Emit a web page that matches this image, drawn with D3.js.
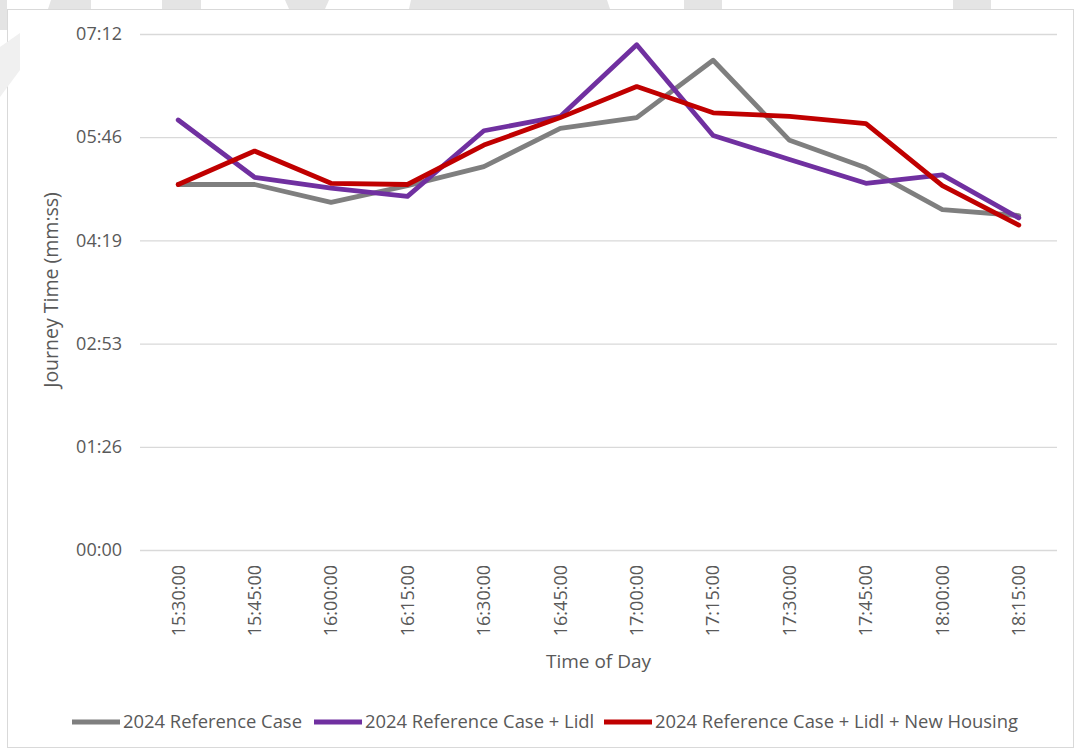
<!DOCTYPE html>
<html>
<head>
<meta charset="utf-8">
<script src="https://cdn.jsdelivr.net/npm/d3@7"></script>
<style>
  body { margin: 0; background: #fff; }
  svg { display: block; font-family: "Open Sans", sans-serif; }
</style>
</head>
<body>
<div id="chart"></div>
<script>
// time slots on the x axis
const times = ['15:30:00', '15:45:00', '16:00:00', '16:15:00', '16:30:00', '16:45:00',
               '17:00:00', '17:15:00', '17:30:00', '17:45:00', '18:00:00', '18:15:00'];

// journey times in seconds
const refCase = [306, 306, 291, 305, 321, 353, 362, 410, 343, 320, 285, 280];
const refLidl = [360, 312, 303, 296, 351, 363, 423, 347, 327, 307, 314, 278];
const refLidlHousing = [306, 334, 307, 306, 339, 362, 388, 366, 363, 357, 305, 272];

// y ticks (excel day fractions 0.001 apart, in seconds)
const yTicks = [0, 86.4, 172.8, 259.2, 345.6, 432];

const seriesNames = ['2024 Reference Case', '2024 Reference Case + Lidl', '2024 Reference Case + Lidl + New Housing'];
const seriesColors = ['#7f7f7f', '#7030a0', '#c00000'];

const WIDTH = 1078, HEIGHT = 751;
const PLOT = { LEFT: 140, RIGHT: 1057, TOP: 34, BOTTOM: 550 };

const svg = d3.select('#chart')
    .append('svg')
        .attr('width', WIDTH)
        .attr('height', HEIGHT);

// chart area + border
svg.append('rect')
    .attr('x', 7.5).attr('y', 9.5)
    .attr('width', 1066).attr('height', 738)
    .attr('fill', '#fff')
    .attr('stroke', '#d9d9d9');

// faint watermark fragments at the edges
const marks = [
    [[51, 0], [91, 0], [91, 9], [48, 9]],
    [[162, 0], [201, 0], [201, 9], [162, 9]],
    [[285, 0], [329, 0], [325, 9], [289, 9]],
    [[411, 0], [607, 0], [610, 9], [409, 9]],
    [[684, 0], [722, 0], [722, 9], [684, 9]],
    [[953, 0], [991, 0], [991, 9], [953, 9]],
    [[0, 0], [7, 0], [7, 30], [0, 30]]
];
svg.append('g')
    .selectAll('polygon')
    .data(marks)
    .enter().append('polygon')
        .attr('points', d => d.map(p => p.join(',')).join(' '))
        .attr('fill', '#e4e4e4');
// the slanted one on the left is fainter
svg.append('polygon')
    .attr('points', '0,47 20,33 20,70 0,97')
    .attr('fill', '#f0f0f0');

const x = d3.scaleBand()
    .domain(times)
    .range([PLOT.LEFT, PLOT.RIGHT]);
const xc = t => x(t) + x.bandwidth() / 2;

const y = d3.scaleLinear()
    .domain([0, 432])
    .range([PLOT.BOTTOM, PLOT.TOP]);

const fmt = s => {
    const r = Math.round(s);
    return String(Math.floor(r / 60)).padStart(2, '0') + ':' + String(r % 60).padStart(2, '0');
};

// gridlines + y labels
const yAxisCall = d3.axisLeft(y)
    .tickValues(yTicks)
    .tickFormat(fmt)
    .tickSize(-(PLOT.RIGHT - PLOT.LEFT))
    .tickPadding(18);

const yAxisGroup = svg.append('g')
    .attr('transform', `translate(${PLOT.LEFT}, 0)`)
    .call(yAxisCall);
yAxisGroup.select('.domain').remove();
yAxisGroup.selectAll('line').attr('stroke', '#d9d9d9').attr('stroke-width', 1.3);
yAxisGroup.selectAll('text')
    .attr('fill', '#595959')
    .style('font-size', '18px')
    .style('font-family', '"Open Sans", sans-serif');

// x labels, rotated
const xAxisCall = d3.axisBottom(x).tickSize(0).tickPadding(0);
const xAxisGroup = svg.append('g')
    .attr('transform', `translate(0, ${PLOT.BOTTOM})`)
    .call(xAxisCall);
xAxisGroup.select('.domain').remove();
xAxisGroup.selectAll('text')
    .attr('transform', 'rotate(-90)')
    .attr('x', -15)
    .attr('y', 0)
    .attr('dy', '0.35em')
    .attr('text-anchor', 'end')
    .attr('fill', '#595959')
    .style('font-size', '18px')
    .style('font-family', '"Open Sans", sans-serif');

// axis titles
svg.append('text')
    .attr('x', (PLOT.LEFT + PLOT.RIGHT) / 2)
    .attr('y', 668)
    .attr('text-anchor', 'middle')
    .attr('fill', '#595959')
    .style('font-size', '19px')
    .text('Time of Day');

svg.append('text')
    .attr('transform', 'translate(58, 290) rotate(-90)')
    .attr('text-anchor', 'middle')
    .attr('fill', '#595959')
    .style('font-size', '19.5px')
    .text('Journey Time (mm:ss)');

// series lines
const allSeries = [refCase, refLidl, refLidlHousing];
const lineGenerator = d3.line()
    .x((d, i) => xc(times[i]))
    .y(d => y(d));

svg.append('g')
    .selectAll('path')
    .data(allSeries)
    .enter().append('path')
        .attr('d', d => lineGenerator(d))
        .attr('fill', 'none')
        .attr('stroke', (d, i) => seriesColors[i])
        .attr('stroke-width', 4.8)
        .attr('stroke-linejoin', 'round')
        .attr('stroke-linecap', 'round');

// legend
const legendX = [72, 314, 604];
const legend = svg.append('g')
    .selectAll('g')
    .data(seriesNames)
    .enter().append('g')
        .attr('transform', (d, i) => `translate(${legendX[i]}, 722)`);
legend.append('line')
    .attr('x1', 0).attr('x2', 48)
    .attr('stroke', (d, i) => seriesColors[i])
    .attr('stroke-width', 4.8);
legend.append('text')
    .attr('x', 51)
    .attr('dy', '0.35em')
    .attr('fill', '#595959')
    .style('font-size', '18.4px')
    .text(d => d);
</script>
</body>
</html>
